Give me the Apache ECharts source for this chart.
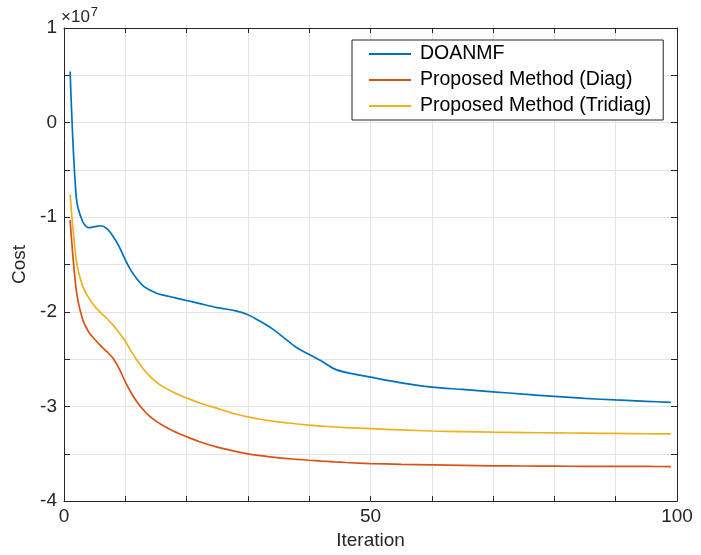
<!DOCTYPE html>
<html>
<head>
<meta charset="utf-8">
<script src="https://cdn.jsdelivr.net/npm/echarts@6/dist/echarts.min.js"></script>
<style>
html,body{margin:0;padding:0;background:#fff;}
#chart{width:701px;height:555px;}
</style>
</head>
<body>
<div id="chart"></div>
<script>
// Values in units of 1e7
const iterations = [1,2,3,4,5,6,7,8,9,10,11,12,13,14,15,16,18,20,22,25,28,30,32,34,36,38,40,42,44,46,50,55,60,65,70,75,80,85,90,95,99];
const doanmf = [0.54,-0.79,-1.04,-1.11,-1.10,-1.09,-1.12,-1.20,-1.31,-1.45,-1.57,-1.66,-1.73,-1.77,-1.80,-1.82,-1.85,-1.88,-1.91,-1.955,-1.99,-2.03,-2.10,-2.18,-2.28,-2.38,-2.45,-2.52,-2.60,-2.64,-2.69,-2.75,-2.795,-2.82,-2.845,-2.87,-2.893,-2.915,-2.931,-2.945,-2.956];
const diag = [-1.03,-1.77,-2.07,-2.21,-2.29,-2.36,-2.42,-2.49,-2.60,-2.74,-2.86,-2.96,-3.04,-3.105,-3.155,-3.195,-3.265,-3.32,-3.37,-3.43,-3.475,-3.50,-3.52,-3.535,-3.548,-3.558,-3.568,-3.577,-3.585,-3.592,-3.603,-3.611,-3.617,-3.622,-3.627,-3.629,-3.631,-3.632,-3.633,-3.634,-3.635];
const tridiag = [-0.76,-1.45,-1.72,-1.85,-1.94,-2.01,-2.07,-2.14,-2.22,-2.31,-2.42,-2.52,-2.61,-2.68,-2.74,-2.785,-2.855,-2.91,-2.96,-3.02,-3.08,-3.11,-3.135,-3.155,-3.17,-3.185,-3.197,-3.207,-3.216,-3.223,-3.235,-3.248,-3.259,-3.266,-3.272,-3.276,-3.279,-3.282,-3.285,-3.288,-3.29];
const seriesNames = ['DOANMF','Proposed Method (Diag)','Proposed Method (Tridiag)'];
const xLabels = [0,50,100];
const yLabels = [-4,-3,-2,-1,0,1];

const FONT = 'Liberation Sans, Arial, Helvetica, sans-serif';
const AX = '#262626';
const GRIDC = '#e3e3e3';

function pairs(vals){ return iterations.map((x,i)=>[x, vals[i]]); }

const chart = echarts.init(document.getElementById('chart'), null, {renderer:'canvas'});
const baseX = {
  type:'value', min:0, max:100, interval:10,
  axisLine:{show:true, onZero:false, lineStyle:{color:AX, width:1}},
  axisTick:{show:true, inside:true, length:5, lineStyle:{color:AX}},
};
const baseY = {
  type:'value', min:-4, max:1, interval:0.5,
  axisLine:{show:true, onZero:false, lineStyle:{color:AX, width:1}},
  axisTick:{show:true, inside:true, length:6, lineStyle:{color:AX}},
};
chart.setOption({
  animation:false,
  textStyle:{fontFamily:FONT},
  grid:{left:64, right:24, top:28, bottom:43, containLabel:false},
  legend:{
    orient:'vertical', left:352, top:40,
    backgroundColor:'#fff', borderColor:AX, borderWidth:1,
    padding:[4,12,4,16], itemGap:6, itemWidth:42, itemHeight:20,
    itemStyle:{opacity:0},
    textStyle:{fontFamily:FONT, fontSize:19.5, color:'#000', lineHeight:20, padding:[0,0,0,4]},
    data:seriesNames
  },
  xAxis:[
    Object.assign({}, baseX, {
      position:'bottom',
      axisLabel:{show:true, margin:6, fontFamily:FONT, fontSize:19, color:AX,
        formatter:v=> xLabels.includes(v) ? String(v) : ''},
      splitLine:{show:true, lineStyle:{color:GRIDC, width:1}},
      name:'Iteration', nameLocation:'middle', nameGap:25,
      nameTextStyle:{fontFamily:FONT, fontSize:19, color:AX}
    }),
    Object.assign({}, baseX, {
      position:'top', axisLabel:{show:false}, splitLine:{show:false}
    })
  ],
  yAxis:[
    Object.assign({}, baseY, {
      position:'left',
      axisLabel:{show:true, margin:7, fontFamily:FONT, fontSize:19, color:AX,
        formatter:v=> yLabels.includes(v) ? String(v) : ''},
      splitLine:{show:true, lineStyle:{color:GRIDC, width:1}},
      name:'Cost', nameLocation:'middle', nameGap:29, nameRotate:90,
      nameTextStyle:{fontFamily:FONT, fontSize:19, color:AX}
    }),
    Object.assign({}, baseY, {
      position:'right', axisLabel:{show:false}, splitLine:{show:false}
    })
  ],
  graphic:[{
    type:'text', left:61, top:6,
    style:{
      text:'{a|×10}{b|7}',
      rich:{
        a:{fontFamily:FONT, fontSize:17, fill:AX, verticalAlign:'bottom', lineHeight:20},
        b:{fontFamily:FONT, fontSize:13, fill:AX, verticalAlign:'top', lineHeight:20, padding:[0,0,7,1]}
      }
    }
  }],
  series:[
    {name:seriesNames[0], type:'line', data:pairs(doanmf), symbol:'none', smooth:0.3,
     lineStyle:{color:'#0072BD', width:1.7}, itemStyle:{color:'#0072BD'}},
    {name:seriesNames[1], type:'line', data:pairs(diag), symbol:'none', smooth:0.3,
     lineStyle:{color:'#D95319', width:1.7}, itemStyle:{color:'#D95319'}},
    {name:seriesNames[2], type:'line', data:pairs(tridiag), symbol:'none', smooth:0.3,
     lineStyle:{color:'#EDB120', width:1.7}, itemStyle:{color:'#EDB120'}}
  ]
});
</script>
</body>
</html>
